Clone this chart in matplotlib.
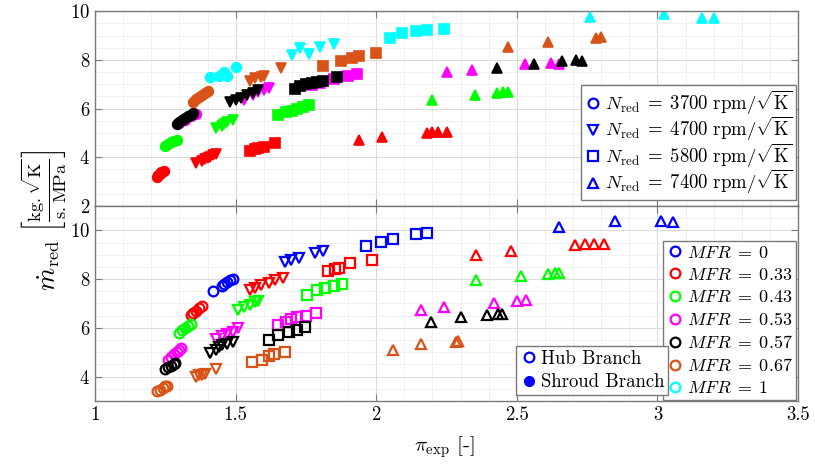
import matplotlib
matplotlib.use("Agg")
import matplotlib.pyplot as plt
from matplotlib.lines import Line2D
from matplotlib.ticker import MultipleLocator, FormatStrFormatter

plt.rcParams['font.family'] = 'serif'
plt.rcParams['font.serif'] = ['cmr10', 'DejaVu Serif']
plt.rcParams['mathtext.fontset'] = 'cm'
plt.rcParams['axes.formatter.use_mathtext'] = True
plt.rcParams['font.size'] = 13

# MFR values and their colours
mfr_values = [0, 0.33, 0.43, 0.53, 0.57, 0.67, 1]
mfr_colors = ['#0000ff', '#ff0000', '#00ff00', '#ff00ff', '#000000', '#d95319', '#00ffff']
speeds = [3700, 4700, 5800, 7400]
speed_markers = ['o', 'v', 's', '^']

# Shroud branch (filled, top panel): {MFR: (pi_exp, m_red)}
shroud_3700 = {
    0.33: ([1.22, 1.225, 1.23, 1.235, 1.245], [3.2, 3.27, 3.33, 3.38, 3.45]),
    0.43: ([1.25, 1.26, 1.27, 1.28, 1.29], [4.45, 4.55, 4.62, 4.68, 4.72]),
    0.53: ([1.30, 1.32, 1.34, 1.36], [5.4, 5.55, 5.68, 5.78]),
    0.57: ([1.29, 1.30, 1.31, 1.32, 1.33, 1.34, 1.35], [5.35, 5.45, 5.52, 5.6, 5.68, 5.75, 5.8]),
    0.67: ([1.35, 1.36, 1.37, 1.38, 1.39, 1.40], [6.28, 6.38, 6.48, 6.57, 6.65, 6.72]),
    1: ([1.41, 1.44, 1.46, 1.47, 1.50], [7.28, 7.33, 7.5, 7.35, 7.7]),
}
shroud_4700 = {
    0.33: ([1.36, 1.38, 1.39, 1.40, 1.41, 1.42, 1.43], [3.78, 3.85, 3.92, 3.97, 4.0, 4.08, 4.13]),
    0.43: ([1.43, 1.45, 1.46, 1.47, 1.49], [5.2, 5.3, 5.38, 5.45, 5.55]),
    0.53: ([1.53, 1.56, 1.58, 1.60, 1.62], [6.35, 6.55, 6.7, 6.78, 6.85]),
    0.57: ([1.48, 1.50, 1.52, 1.54, 1.56, 1.58], [6.25, 6.35, 6.45, 6.55, 6.65, 6.75]),
    0.67: ([1.55, 1.57, 1.59, 1.60, 1.66], [7.15, 7.25, 7.3, 7.35, 7.65]),
    1: ([1.70, 1.73, 1.76, 1.80, 1.85], [8.19, 8.47, 8.26, 8.54, 8.67]),
}
shroud_5800 = {
    0.33: ([1.55, 1.57, 1.58, 1.60, 1.64], [4.25, 4.33, 4.38, 4.42, 4.58]),
    0.43: ([1.65, 1.68, 1.70, 1.72, 1.74, 1.76], [5.72, 5.85, 5.92, 6.0, 6.08, 6.15]),
    0.53: ([1.77, 1.80, 1.85, 1.90, 1.93], [6.95, 7.05, 7.2, 7.35, 7.42]),
    0.57: ([1.71, 1.73, 1.75, 1.77, 1.79, 1.81, 1.86], [6.82, 6.92, 7.0, 7.05, 7.1, 7.15, 7.3]),
    0.67: ([1.81, 1.875, 1.915, 1.94, 2.00], [7.76, 7.95, 8.06, 8.15, 8.29]),
    1: ([2.05, 2.09, 2.14, 2.18, 2.24], [8.88, 9.1, 9.18, 9.24, 9.27]),
}
shroud_7400 = {
    0.33: ([1.94, 2.02, 2.18, 2.20, 2.22, 2.25], [4.7, 4.85, 5.0, 5.02, 5.03, 5.05]),
    0.43: ([2.20, 2.35, 2.43, 2.45, 2.47], [6.35, 6.55, 6.62, 6.67, 6.68]),
    0.53: ([2.25, 2.34, 2.53, 2.62, 2.65], [7.5, 7.6, 7.85, 7.88, 7.85]),
    0.57: ([2.43, 2.56, 2.66, 2.71, 2.73], [7.65, 7.85, 7.96, 7.99, 7.97]),
    0.67: ([2.47, 2.61, 2.78, 2.80], [8.53, 8.74, 8.9, 8.92]),
    1: ([2.76, 3.025, 3.16, 3.20], [9.77, 9.9, 9.74, 9.7]),
}

# Hub branch (hollow, bottom panel)
hub_3700 = {
    0: ([1.42, 1.45, 1.46, 1.47, 1.48, 1.49], [7.52, 7.7, 7.8, 7.88, 7.95, 8.0]),
    0.33: ([1.34, 1.35, 1.36, 1.37, 1.38], [6.52, 6.6, 6.7, 6.8, 6.9]),
    0.43: ([1.30, 1.31, 1.32, 1.33, 1.34], [5.8, 5.9, 6.0, 6.08, 6.15]),
    0.53: ([1.26, 1.27, 1.28, 1.29, 1.30, 1.305], [4.7, 4.82, 4.92, 5.02, 5.1, 5.17]),
    0.57: ([1.25, 1.26, 1.27, 1.28, 1.285], [4.3, 4.38, 4.45, 4.5, 4.55]),
    0.67: ([1.22, 1.23, 1.24, 1.25, 1.255], [3.4, 3.47, 3.53, 3.6, 3.63]),
}
hub_4700 = {
    0: ([1.674, 1.697, 1.724, 1.784, 1.81], [8.71, 8.78, 8.85, 9.08, 9.16]),
    0.33: ([1.55, 1.57, 1.59, 1.62, 1.64, 1.67], [7.55, 7.65, 7.75, 7.85, 7.95, 8.05]),
    0.43: ([1.51, 1.53, 1.55, 1.57, 1.58], [6.72, 6.85, 6.95, 7.05, 7.12]),
    0.53: ([1.43, 1.45, 1.47, 1.49, 1.51], [5.55, 5.65, 5.75, 5.85, 6.0]),
    0.57: ([1.41, 1.43, 1.44, 1.45, 1.47, 1.49], [4.95, 5.1, 5.2, 5.28, 5.35, 5.42]),
    0.67: ([1.36, 1.37, 1.38, 1.39, 1.43], [4.0, 4.05, 4.08, 4.1, 4.3]),
}
hub_5800 = {
    0: ([1.965, 2.016, 2.06, 2.143, 2.182], [9.36, 9.53, 9.63, 9.84, 9.88]),
    0.33: ([1.827, 1.855, 1.866, 1.906, 1.984], [8.34, 8.40, 8.44, 8.65, 8.78]),
    0.43: ([1.753, 1.79, 1.819, 1.851, 1.878], [7.34, 7.55, 7.62, 7.71, 7.80]),
    0.53: ([1.65, 1.68, 1.697, 1.72, 1.75, 1.785], [6.11, 6.25, 6.35, 6.43, 6.48, 6.59]),
    0.57: ([1.62, 1.65, 1.691, 1.72, 1.745], [5.52, 5.70, 5.84, 5.93, 6.02]),
    0.67: ([1.559, 1.594, 1.62, 1.638, 1.674], [4.61, 4.70, 4.84, 4.92, 5.02]),
}
hub_7400 = {
    0: ([2.651, 2.848, 3.013, 3.057], [10.15, 10.4, 10.4, 10.36]),
    0.33: ([2.356, 2.481, 2.708, 2.744, 2.773, 2.809], [8.99, 9.16, 9.4, 9.44, 9.44, 9.44]),
    0.43: ([2.354, 2.516, 2.611, 2.637, 2.65], [7.96, 8.13, 8.21, 8.24, 8.24]),
    0.53: ([2.158, 2.241, 2.418, 2.50, 2.532], [6.73, 6.84, 7.03, 7.11, 7.14]),
    0.57: ([2.194, 2.30, 2.395, 2.434, 2.448], [6.25, 6.43, 6.52, 6.55, 6.55]),
    0.67: ([2.06, 2.16, 2.285, 2.29], [5.11, 5.32, 5.4, 5.45]),
}

shroud = [shroud_3700, shroud_4700, shroud_5800, shroud_7400]
hub = [hub_3700, hub_4700, hub_5800, hub_7400]

fig = plt.figure(figsize=(8.15, 4.66), dpi=100)
ax_top = fig.add_axes([0.1166, 0.558, 0.8626, 0.418])
ax_bot = fig.add_axes([0.1166, 0.1395, 0.8626, 0.4185])

frame_col = '#7a7a7a'
for ax in (ax_top, ax_bot):
    ax.set_xlim(1, 3.5)
    ax.xaxis.set_major_locator(MultipleLocator(0.5))
    ax.xaxis.set_minor_locator(MultipleLocator(0.1))
    ax.xaxis.set_major_formatter(FormatStrFormatter('%g'))
    ax.yaxis.set_minor_locator(MultipleLocator(0.5))
    ax.grid(True, which='major', color='#dcdcdc', linewidth=0.8)
    ax.grid(True, which='minor', color='#efefef', linewidth=0.6)
    ax.set_axisbelow(True)
    ax.tick_params(which='both', direction='in', top=True, right=True, color=frame_col)
    ax.tick_params(which='major', length=5, labelsize=13.5)
    ax.tick_params(which='minor', length=0)
    for sp in ax.spines.values():
        sp.set_color(frame_col)
        sp.set_linewidth(1.0)

ax_top.set_ylim(2, 10)
ax_top.yaxis.set_major_locator(MultipleLocator(2))
ax_top.tick_params(labelbottom=False)
ax_bot.set_ylim(3, 11)
ax_bot.set_yticks([4, 6, 8, 10])

for k, mk in enumerate(speed_markers):
    for mfr, col in zip(mfr_values, mfr_colors):
        if mfr in shroud[k]:
            x, y = shroud[k][mfr]
            ax_top.plot(x, y, linestyle='none', marker=mk, markersize=7,
                        markerfacecolor=col, markeredgecolor=col, markeredgewidth=1.2)
        if mfr in hub[k]:
            x, y = hub[k][mfr]
            ax_bot.plot(x, y, linestyle='none', marker=mk, markersize=7,
                        markerfacecolor='none', markeredgecolor=col, markeredgewidth=1.6)

# Legends
leg_kw = dict(frameon=True, fancybox=False, edgecolor=frame_col, framealpha=1,
              handletextpad=0.2, borderpad=0.2, borderaxespad=0, handlelength=0.9)

speed_handles = [Line2D([], [], linestyle='none', marker=m, markersize=7,
                        markerfacecolor='none', markeredgecolor='#0000ff', markeredgewidth=1.6)
                 for m in speed_markers]
speed_labels = [r'$N_\mathrm{red}\;=\;%d\ \mathrm{rpm}/\sqrt{\mathrm{K}}$' % s for s in speeds]
ax_top.legend(speed_handles, speed_labels, loc='lower right', bbox_to_anchor=(0.997, 0.03),
              fontsize=13.5, labelspacing=-0.08, **leg_kw)

mfr_handles = [Line2D([], [], linestyle='none', marker='o', markersize=7,
                      markerfacecolor='none', markeredgecolor=c, markeredgewidth=1.6)
               for c in mfr_colors]
mfr_labels = [r'$MFR\;=\;%s$' % m for m in ['0', '0.33', '0.43', '0.53', '0.57', '0.67', '1']]
leg_mfr = ax_bot.legend(mfr_handles, mfr_labels, loc='lower right', bbox_to_anchor=(0.997, 0.005),
                        fontsize=13, labelspacing=0.34, **leg_kw)
ax_bot.add_artist(leg_mfr)

branch_handles = [
    Line2D([], [], linestyle='none', marker='o', markersize=7, markerfacecolor='none',
           markeredgecolor='#0000ff', markeredgewidth=1.6),
    Line2D([], [], linestyle='none', marker='o', markersize=7, markerfacecolor='#0000ff',
           markeredgecolor='#0000ff'),
]
ax_bot.legend(branch_handles, ['Hub Branch', 'Shroud Branch'], loc='lower right',
              bbox_to_anchor=(0.815, 0.03), fontsize=13.5, labelspacing=0.3, **leg_kw)

fig.text(0.053, 0.528,
         r'$\dot{m}_\mathrm{red}\;\left[\frac{\mathrm{kg.}\sqrt{\mathrm{K}}}{\mathrm{s.MPa}}\right]$',
         rotation=90, ha='center', va='center', fontsize=19)
fig.text(0.545, 0.04, r'$\pi_\mathrm{exp}$ [-]', ha='center', va='center', fontsize=15)

fig.savefig('out.png', dpi=100)
